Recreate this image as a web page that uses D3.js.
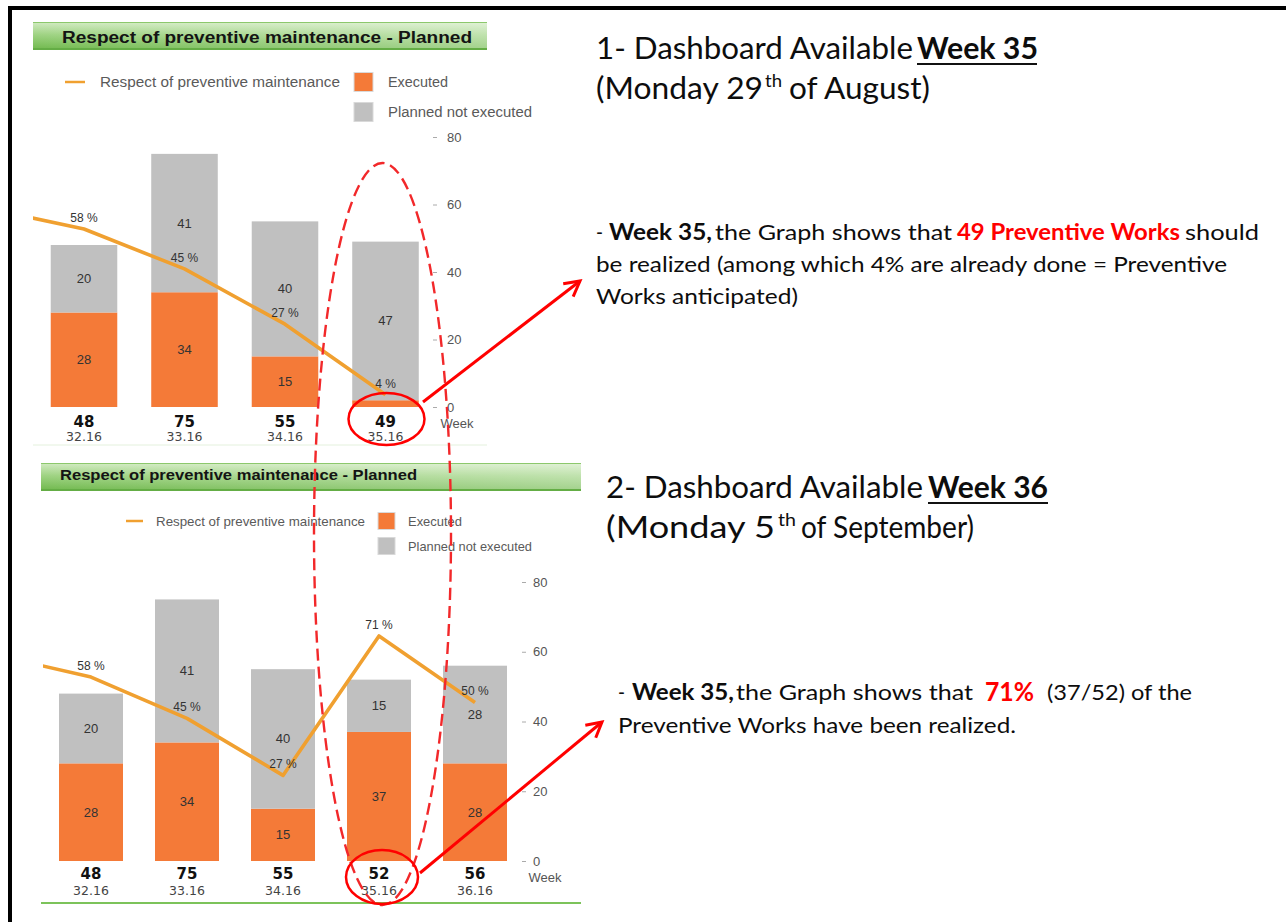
<!DOCTYPE html>
<html><head><meta charset="utf-8">
<script src="https://cdn.jsdelivr.net/npm/d3@7"></script>
<style>html,body{margin:0;padding:0;background:#fff;} svg{display:block;}</style>
</head><body>
<script>
// ---------------- DATA ----------------
const chartTitle = "Respect of preventive maintenance - Planned";
const legendLineLabel = "Respect of preventive maintenance";
const legendExecLabel = "Executed";
const legendPlanLabel = "Planned not executed";
const yTickValues = [0, 20, 40, 60, 80];
const weekAxisLabel = "Week";

// Dashboard week 35
const weeksA = ["32.16", "33.16", "34.16", "35.16"];
const executedA = [28, 34, 15, 2];
const notExecutedA = [20, 41, 40, 47];
const respectA = [58, 45, 27, 4];
const priorRespectA = 65;   // week 31.16 (only its segment enters the plot)

// Dashboard week 36
const weeksB = ["32.16", "33.16", "34.16", "35.16", "36.16"];
const executedB = [28, 34, 15, 37, 28];
const notExecutedB = [20, 41, 40, 15, 28];
const respectB = [58, 45, 27, 71, 50];
const priorRespectB = 65;   // week 31.16

// ---------------- STYLE ----------------
const C_EXEC = "#f47a38", C_PLAN = "#c0c0c0", C_LINE = "#f0a030", RED = "#ff0000";
const SANS = "'Liberation Sans', Arial, sans-serif";
const WIDE = "'DejaVu Sans', Verdana, sans-serif";
const TXT = "Lato, 'Open Sans', sans-serif";

const svg = d3.select("body").append("svg").attr("width", 1286).attr("height", 922);
const defs = svg.append("defs");
const gv = defs.append("linearGradient").attr("id", "gv").attr("x1", 0).attr("y1", 0).attr("x2", 0).attr("y2", 1);
gv.append("stop").attr("offset", "0%").attr("stop-color", "#d2ebc2");
gv.append("stop").attr("offset", "45%").attr("stop-color", "#9fd383");
gv.append("stop").attr("offset", "100%").attr("stop-color", "#6fb84c");
const gh = defs.append("linearGradient").attr("id", "gh").attr("x1", 0).attr("y1", 0).attr("x2", 1).attr("y2", 0);
gh.append("stop").attr("offset", "0%").attr("stop-color", "#fff").attr("stop-opacity", 0);
gh.append("stop").attr("offset", "100%").attr("stop-color", "#fff").attr("stop-opacity", 0.35);

// outer frame
svg.append("line").attr("x1", 10).attr("y1", 6).attr("x2", 10).attr("y2", 922).attr("stroke", "#000").attr("stroke-width", 4);
svg.append("line").attr("x1", 8).attr("y1", 8).attr("x2", 1286).attr("y2", 8).attr("stroke", "#000").attr("stroke-width", 4);

function drawChart(id, weeks, executed, notExec, respect, prior, L) {
  const g = svg.append("g");
  // title bar
  const tb = L.titleBar;
  g.append("rect").attr("x", tb.x).attr("y", tb.y).attr("width", tb.w).attr("height", tb.h).attr("fill", "url(#gv)");
  g.append("rect").attr("x", tb.x).attr("y", tb.y).attr("width", tb.w).attr("height", tb.h).attr("fill", "url(#gh)");
  g.append("line").attr("x1", tb.x).attr("x2", tb.x + tb.w).attr("y1", tb.y + 0.5).attr("y2", tb.y + 0.5).attr("stroke", "#8cc86c").attr("stroke-width", 1);
  g.append("line").attr("x1", tb.x).attr("x2", tb.x + tb.w).attr("y1", tb.y + tb.h - 1).attr("y2", tb.y + tb.h - 1).attr("stroke", "#64ad45").attr("stroke-width", 2);
  g.append("text").attr("x", L.titleX).attr("y", L.titleY).attr("dominant-baseline", "central")
    .attr("font-family", SANS).attr("font-weight", "bold").attr("font-size", L.titleSize)
    .attr("fill", "#141414").attr("textLength", L.titleLen).attr("lengthAdjust", "spacingAndGlyphs").text(chartTitle);

  // legend
  const lg = L.legend;
  g.append("line").attr("x1", lg.lineX).attr("x2", lg.lineX2).attr("y1", lg.y1).attr("y2", lg.y1).attr("stroke", C_LINE).attr("stroke-width", 2.5);
  const legTxt = (x, y, t, len) => g.append("text").attr("x", x).attr("y", y).attr("dominant-baseline", "central")
    .attr("font-family", SANS).attr("font-size", lg.size).attr("fill", "#5a5a5a")
    .attr("textLength", len).attr("lengthAdjust", "spacingAndGlyphs").text(t);
  legTxt(lg.textX, lg.y1, legendLineLabel, lg.textLen);
  g.append("rect").attr("x", lg.sqX).attr("y", lg.y1 - lg.sq / 2).attr("width", lg.sq).attr("height", lg.sq).attr("fill", C_EXEC).attr("stroke", "#d9d9d9");
  g.append("rect").attr("x", lg.sqX).attr("y", lg.y2 - lg.sq / 2).attr("width", lg.sq).attr("height", lg.sq).attr("fill", C_PLAN).attr("stroke", "#d9d9d9");
  legTxt(lg.lx, lg.y1, legendExecLabel, lg.execLen);
  legTxt(lg.lx, lg.y2, legendPlanLabel, lg.planLen);

  // scales
  const x = d3.scaleBand().domain(weeks).range([L.x0, L.x1]).paddingInner(L.pad).paddingOuter(L.pad / 2);
  const y = d3.scaleLinear().domain([0, 80]).range([L.y0, L.y1]);
  const yPct = d3.scaleLinear().domain([0, 88]).range([L.y0, L.y1]);
  const cx = w => x(w) + x.bandwidth() / 2;

  const rows = weeks.map((w, i) => ({ w, ex: executed[i], ne: notExec[i], tot: executed[i] + notExec[i], pct: respect[i] }));

  // bars
  const bars = g.append("g");
  bars.selectAll("rect.ex").data(rows).join("rect").attr("class", "ex")
    .attr("x", d => x(d.w)).attr("width", x.bandwidth())
    .attr("y", d => y(d.ex)).attr("height", d => y(0) - y(d.ex)).attr("fill", C_EXEC);
  bars.selectAll("rect.ne").data(rows).join("rect").attr("class", "ne")
    .attr("x", d => x(d.w)).attr("width", x.bandwidth())
    .attr("y", d => y(d.tot)).attr("height", d => y(d.ex) - y(d.tot)).attr("fill", C_PLAN);
  const valLab = (sel) => sel.attr("text-anchor", "middle").attr("dominant-baseline", "central")
    .attr("font-family", SANS).attr("font-size", 13).attr("fill", "#333");
  bars.selectAll("text.exl").data(rows.filter(d => d.ex >= 5)).join("text").attr("class", "exl")
    .attr("x", d => cx(d.w)).attr("y", d => (y(0) + y(d.ex)) / 2).call(valLab).text(d => d.ex);
  bars.selectAll("text.nel").data(rows.filter(d => d.ne >= 5)).join("text").attr("class", "nel")
    .attr("x", d => cx(d.w)).attr("y", d => (y(d.ex) + y(d.tot)) / 2).call(valLab).text(d => d.ne);

  // line
  defs.append("clipPath").attr("id", "clip" + id).append("rect")
    .attr("x", L.clipX0).attr("y", 0).attr("width", L.x1 - L.clipX0).attr("height", 922);
  const pts = [{ px: cx(weeks[0]) - x.step(), v: prior }].concat(rows.map(d => ({ px: cx(d.w), v: d.pct })));
  g.append("path").datum(pts).attr("clip-path", "url(#clip" + id + ")")
    .attr("d", d3.line().x(d => d.px).y(d => yPct(d.v)))
    .attr("fill", "none").attr("stroke", C_LINE).attr("stroke-width", 3.6).attr("stroke-linejoin", "round");
  g.selectAll("text.pct").data(rows).join("text").attr("class", "pct")
    .attr("x", d => cx(d.w)).attr("y", d => yPct(d.pct) - 11)
    .attr("text-anchor", "middle").attr("dominant-baseline", "central")
    .attr("font-family", SANS).attr("font-size", 12).attr("fill", "#333").text(d => d.pct + " %");

  // category labels
  g.selectAll("text.tot").data(rows).join("text").attr("class", "tot")
    .attr("x", d => cx(d.w)).attr("y", L.labBoldY).attr("text-anchor", "middle").attr("dominant-baseline", "central")
    .attr("font-family", WIDE).attr("font-weight", "bold").attr("font-size", 15).attr("fill", "#111").text(d => d.tot);
  g.selectAll("text.wk").data(rows).join("text").attr("class", "wk")
    .attr("x", d => cx(d.w)).attr("y", L.labSubY).attr("text-anchor", "middle").attr("dominant-baseline", "central")
    .attr("font-family", WIDE).attr("font-size", 12.5).attr("fill", "#444").text(d => d.w);

  // right axis
  const ax = g.append("g").attr("transform", `translate(${L.axisX},0)`)
    .call(d3.axisRight(y).tickValues(yTickValues).tickSize(4).tickPadding(L.tickPad));
  ax.select(".domain").remove();
  ax.selectAll(".tick line").attr("stroke", "#aaa");
  ax.selectAll(".tick text").attr("font-family", SANS).attr("font-size", 13).attr("fill", "#555");
  g.append("text").attr("x", L.weekX).attr("y", L.weekY).attr("text-anchor", "middle").attr("dominant-baseline", "central")
    .attr("font-family", SANS).attr("font-size", 13).attr("fill", "#555").text(weekAxisLabel);

  // separator
  g.append("line").attr("x1", L.sepX0).attr("x2", L.sepX1).attr("y1", L.sepY).attr("y2", L.sepY)
    .attr("stroke", L.sepColor).attr("stroke-width", L.sepW);
}

drawChart("A", weeksA, executedA, notExecutedA, respectA, priorRespectA, {
  x0: 33.75, x1: 435.75, pad: 0.338, y0: 407, y1: 137, clipX0: 33,
  axisX: 433, tickPad: 10, weekX: 457, weekY: 423, labBoldY: 422, labSubY: 436,
  titleBar: { x: 33, y: 22, w: 454, h: 28 }, titleX: 62, titleY: 37, titleSize: 16, titleLen: 410,
  legend: { lineX: 65, lineX2: 85, y1: 82, y2: 112, textX: 100, textLen: 240, size: 14, sqX: 354, sq: 19, lx: 388, execLen: 60, planLen: 144 },
  sepX0: 33, sepX1: 487, sepY: 445, sepColor: "#e4f1dd", sepW: 1
});

drawChart("B", weeksB, executedB, notExecutedB, respectB, priorRespectB, {
  x0: 43, x1: 523, pad: 1 / 3, y0: 861, y1: 582, clipX0: 43,
  axisX: 522, tickPad: 7, weekX: 545, weekY: 877, labBoldY: 874, labSubY: 890,
  titleBar: { x: 41, y: 463, w: 540, h: 28 }, titleX: 60, titleY: 475, titleSize: 14, titleLen: 357,
  legend: { lineX: 126, lineX2: 143, y1: 521, y2: 546, textX: 156, textLen: 209, size: 13, sqX: 378, sq: 17, lx: 408, execLen: 54, planLen: 124 },
  sepX0: 41, sepX1: 581, sepY: 903, sepColor: "#7cc35a", sepW: 2
});

// ---------------- ANNOTATION TEXT ----------------
function seg(x, y, t, o) {
  o = o || {};
  const el = svg.append("text").attr("x", x).attr("y", y)
    .attr("font-family", TXT).attr("font-size", o.size || 22).attr("font-weight", o.bold ? "bold" : "normal")
    .attr("fill", o.fill || "#0d0d0d").text(t);
  if (o.len) el.attr("textLength", o.len).attr("lengthAdjust", "spacingAndGlyphs");
  return el;
}
function underline(x, y, len) {
  svg.append("line").attr("x1", x).attr("x2", x + len).attr("y1", y).attr("y2", y).attr("stroke", "#111").attr("stroke-width", 2);
}
// block 1
seg(596, 59, "1- Dashboard Available", { size: 31, len: 317 });
seg(917, 59, "Week 35", { size: 31, bold: true, len: 121 });
underline(917, 64, 120);
seg(596, 99, "(Monday 29", { size: 31, len: 167 });
seg(765, 87, "th", { size: 18, len: 17 });
seg(789, 99, "of August)", { size: 31, len: 141 });

seg(596, 240, "-", { size: 22, len: 7 });
seg(609, 240, "Week 35,", { size: 22, bold: true, len: 103 });
seg(715, 240, "the Graph shows  that", { size: 22, len: 237 });
seg(957, 240, "49 Preventive Works", { size: 22, bold: true, fill: RED, len: 223 });
seg(1185, 240, "should", { size: 22, len: 74 });
seg(596, 272, "be realized (among which 4% are already done = Preventive", { size: 22, len: 631 });
seg(596, 304, "Works anticipated)", { size: 22, len: 202 });

// block 2
seg(606, 498, "2- Dashboard Available", { size: 31, len: 317 });
seg(928, 498, "Week 36", { size: 31, bold: true, len: 120 });
underline(928, 503, 120);
seg(606, 538, "(Monday 5", { size: 31, len: 169 });
seg(778, 526, "th", { size: 18, len: 18 });
seg(801, 538, "of September)", { size: 31, len: 173 });

seg(618, 700, "-", { size: 22, len: 7 });
seg(632, 700, "Week 35,", { size: 22, bold: true, len: 102 });
seg(736, 700, "the Graph shows  that", { size: 22, len: 237 });
seg(985, 701, "71%", { size: 27, bold: true, fill: RED, len: 49 });
seg(1047, 700, "(37/52) of the", { size: 22, len: 145 });
seg(618, 733, "Preventive Works have been realized.", { size: 22, len: 398 });

// ---------------- RED MARKUP ----------------
svg.append("ellipse").attr("cx", 382.5).attr("cy", 534).attr("rx", 68.5).attr("ry", 371)
  .attr("fill", "none").attr("stroke", "#f2282a").attr("stroke-width", 2.4).attr("stroke-dasharray", "12 6");
svg.append("ellipse").attr("cx", 386.5).attr("cy", 419).attr("rx", 38).attr("ry", 26)
  .attr("fill", "none").attr("stroke", RED).attr("stroke-width", 2.5);
svg.append("ellipse").attr("cx", 382).attr("cy", 877).attr("rx", 36).attr("ry", 27)
  .attr("fill", "none").attr("stroke", RED).attr("stroke-width", 2.5);
function arrow(x1, y1, x2, y2) {
  svg.append("line").attr("x1", x1).attr("y1", y1).attr("x2", x2).attr("y2", y2).attr("stroke", RED).attr("stroke-width", 3);
  const a = Math.atan2(y2 - y1, x2 - x1) + Math.PI, L = 17, s = 0.5;
  const p1 = [x2 + L * Math.cos(a - s), y2 + L * Math.sin(a - s)];
  const p2 = [x2 + L * Math.cos(a + s), y2 + L * Math.sin(a + s)];
  svg.append("polyline").attr("points", [p1, [x2, y2], p2].map(p => p.join(",")).join(" "))
    .attr("fill", "none").attr("stroke", RED).attr("stroke-width", 3).attr("stroke-linejoin", "miter");
}
arrow(423, 402, 580, 281);
arrow(420, 873, 602, 722);
</script>
</body></html>
